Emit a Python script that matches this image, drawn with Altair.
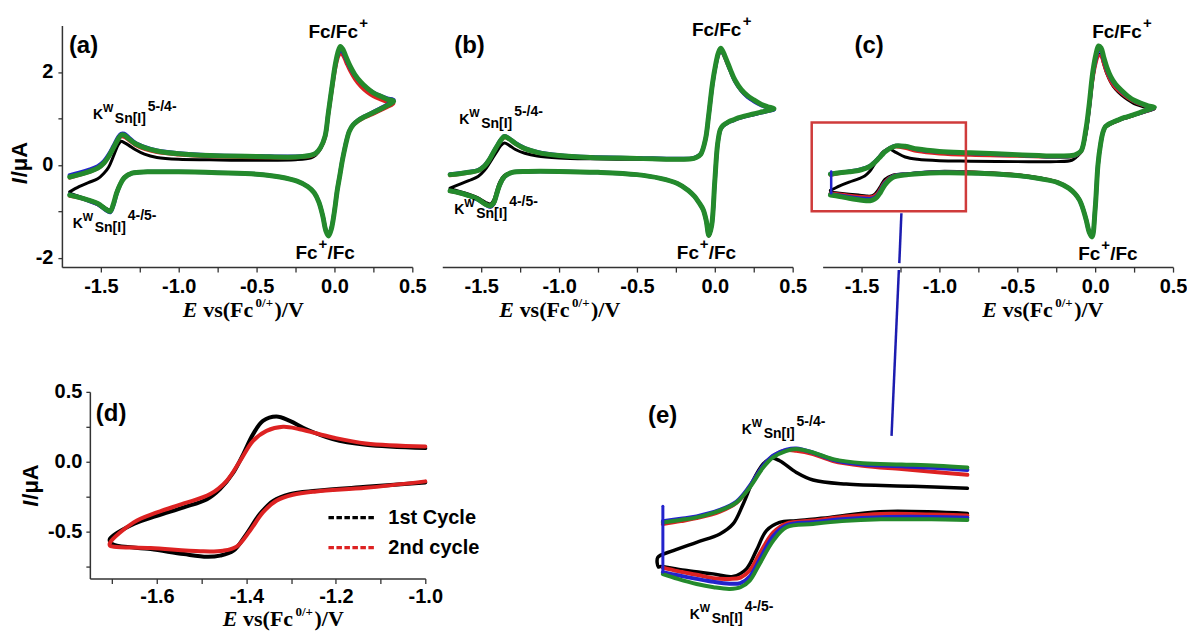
import altair as alt
import pandas as pd

# ------------------------------------------------------------------ data
# shared potential grids (V vs Fc) for the three full-range CVs (a)-(c)
E_UP = [-1.70, -1.64, -1.58, -1.52, -1.48, -1.45, -1.42, -1.39, -1.37, -1.35, -1.32, -1.28,
        -1.22, -1.14, -1.00, -0.80, -0.50, -0.25, -0.15, -0.12, -0.09, -0.06, -0.04, -0.015,
        0.005, 0.022, 0.038, 0.055, 0.075, 0.10, 0.13, 0.17, 0.21, 0.25, 0.30, 0.34, 0.38]
E_DN = [0.38, 0.34, 0.29, 0.24, 0.19, 0.15, 0.12, 0.095, 0.08, 0.065, 0.05, 0.035, 0.018, 0.0,
        -0.02, -0.038, -0.055, -0.075, -0.10, -0.13, -0.17, -0.24, -0.35, -0.50, -0.75, -1.00,
        -1.20, -1.30, -1.35, -1.38, -1.40, -1.42, -1.44, -1.47, -1.52, -1.58, -1.64, -1.70]

# panel (a) currents (uA)
A_BLACK_UP = [-0.58, -0.47, -0.38, -0.30, -0.18, -0.05, 0.18, 0.42, 0.51, 0.48, 0.42, 0.33, 0.23, 0.16, 0.12, 0.11, 0.10, 0.11, 0.15, 0.21, 0.34, 0.60, 1.07, 1.67, 2.12, 2.40, 2.52, 2.45, 2.30, 2.10, 1.92, 1.75, 1.62, 1.52, 1.44, 1.38, 1.34]
A_RED_UP = [-0.28, -0.22, -0.16, -0.08, 0.03, 0.17, 0.35, 0.53, 0.61, 0.60, 0.53, 0.43, 0.34, 0.27, 0.22, 0.18, 0.16, 0.16, 0.19, 0.23, 0.35, 0.58, 1.05, 1.62, 2.05, 2.30, 2.40, 2.35, 2.20, 2.02, 1.85, 1.68, 1.56, 1.47, 1.40, 1.35, 1.32]
A_BLUE_UP = [-0.22, -0.17, -0.11, -0.03, 0.08, 0.22, 0.40, 0.59, 0.67, 0.67, 0.59, 0.48, 0.39, 0.31, 0.25, 0.21, 0.19, 0.18, 0.21, 0.25, 0.37, 0.62, 1.10, 1.70, 2.13, 2.38, 2.48, 2.42, 2.28, 2.10, 1.93, 1.77, 1.65, 1.56, 1.48, 1.43, 1.40]
A_GREEN_UP = [-0.26, -0.21, -0.15, -0.07, 0.04, 0.18, 0.36, 0.55, 0.64, 0.64, 0.56, 0.46, 0.37, 0.30, 0.24, 0.20, 0.18, 0.17, 0.21, 0.25, 0.37, 0.62, 1.10, 1.70, 2.15, 2.42, 2.55, 2.48, 2.32, 2.13, 1.95, 1.78, 1.65, 1.55, 1.47, 1.41, 1.37]
A_BLACK_DN = [1.34, 1.26, 1.17, 1.09, 1.02, 0.94, 0.85, 0.71, 0.54, 0.32, 0.07, -0.23, -0.56, -1.00, -1.37, -1.52, -1.41, -1.10, -0.80, -0.60, -0.47, -0.35, -0.26, -0.20, -0.17, -0.15, -0.15, -0.17, -0.26, -0.42, -0.58, -0.83, -0.97, -0.93, -0.82, -0.75, -0.68, -0.61]
A_RED_DN = [1.32, 1.24, 1.16, 1.08, 1.01, 0.93, 0.85, 0.71, 0.54, 0.32, 0.07, -0.23, -0.56, -1.00, -1.36, -1.50, -1.40, -1.09, -0.80, -0.60, -0.47, -0.35, -0.26, -0.20, -0.17, -0.15, -0.15, -0.18, -0.28, -0.45, -0.63, -0.86, -1.00, -0.96, -0.85, -0.77, -0.71, -0.67]
A_BLUE_DN = [1.40, 1.30, 1.21, 1.12, 1.04, 0.96, 0.87, 0.73, 0.56, 0.34, 0.09, -0.21, -0.54, -0.99, -1.37, -1.52, -1.41, -1.10, -0.80, -0.60, -0.47, -0.35, -0.26, -0.20, -0.17, -0.15, -0.15, -0.18, -0.28, -0.46, -0.64, -0.88, -1.02, -0.97, -0.85, -0.77, -0.70, -0.64]
A_GREEN_DN = [1.37, 1.28, 1.19, 1.11, 1.03, 0.95, 0.86, 0.72, 0.55, 0.33, 0.08, -0.22, -0.55, -1.00, -1.38, -1.53, -1.42, -1.10, -0.80, -0.60, -0.47, -0.35, -0.26, -0.20, -0.17, -0.15, -0.15, -0.18, -0.28, -0.45, -0.62, -0.85, -1.00, -0.95, -0.83, -0.76, -0.70, -0.65]

# panel (b)
B_BLACK_UP = [-0.50, -0.42, -0.34, -0.25, -0.12, 0.02, 0.18, 0.34, 0.43, 0.47, 0.42, 0.33, 0.25, 0.19, 0.15, 0.13, 0.12, 0.11, 0.12, 0.15, 0.22, 0.53, 1.03, 1.72, 2.12, 2.38, 2.49, 2.41, 2.25, 2.04, 1.81, 1.61, 1.48, 1.39, 1.29, 1.24, 1.20]
B_RED_UP = [-0.23, -0.20, -0.17, -0.13, -0.04, 0.09, 0.27, 0.44, 0.54, 0.59, 0.55, 0.45, 0.34, 0.26, 0.20, 0.16, 0.14, 0.12, 0.13, 0.16, 0.23, 0.54, 1.03, 1.72, 2.12, 2.36, 2.46, 2.38, 2.22, 2.02, 1.80, 1.60, 1.47, 1.38, 1.29, 1.24, 1.20]
B_BLUE_UP = [-0.20, -0.18, -0.15, -0.11, -0.02, 0.11, 0.29, 0.46, 0.56, 0.62, 0.57, 0.47, 0.36, 0.28, 0.21, 0.17, 0.15, 0.13, 0.14, 0.17, 0.24, 0.55, 1.04, 1.73, 2.13, 2.37, 2.47, 2.40, 2.24, 2.03, 1.80, 1.60, 1.46, 1.37, 1.28, 1.23, 1.19]
B_GREEN_UP = [-0.21, -0.19, -0.16, -0.12, -0.03, 0.10, 0.28, 0.45, 0.55, 0.61, 0.56, 0.46, 0.35, 0.27, 0.20, 0.16, 0.14, 0.12, 0.13, 0.16, 0.23, 0.55, 1.05, 1.75, 2.15, 2.40, 2.51, 2.42, 2.26, 2.05, 1.82, 1.62, 1.49, 1.40, 1.30, 1.25, 1.21]
B_BLACK_DN = [1.20, 1.16, 1.12, 1.08, 1.04, 1.00, 0.96, 0.93, 0.90, 0.87, 0.83, 0.75, 0.44, -0.36, -1.30, -1.52, -1.20, -0.96, -0.82, -0.68, -0.55, -0.40, -0.29, -0.21, -0.16, -0.14, -0.14, -0.16, -0.22, -0.36, -0.55, -0.76, -0.84, -0.81, -0.71, -0.63, -0.57, -0.52]
B_RED_DN = [1.20, 1.16, 1.12, 1.08, 1.04, 1.00, 0.96, 0.93, 0.90, 0.87, 0.83, 0.75, 0.44, -0.36, -1.31, -1.53, -1.21, -0.97, -0.82, -0.68, -0.55, -0.40, -0.29, -0.21, -0.16, -0.14, -0.14, -0.16, -0.26, -0.44, -0.64, -0.84, -0.90, -0.86, -0.75, -0.67, -0.61, -0.57]
B_BLUE_DN = [1.19, 1.16, 1.12, 1.08, 1.04, 1.00, 0.96, 0.93, 0.90, 0.87, 0.83, 0.75, 0.44, -0.36, -1.30, -1.52, -1.20, -0.96, -0.82, -0.68, -0.55, -0.40, -0.29, -0.21, -0.16, -0.14, -0.14, -0.16, -0.26, -0.43, -0.63, -0.84, -0.90, -0.86, -0.75, -0.66, -0.60, -0.56]
B_GREEN_DN = [1.21, 1.17, 1.13, 1.09, 1.05, 1.01, 0.97, 0.94, 0.91, 0.88, 0.84, 0.76, 0.45, -0.35, -1.30, -1.52, -1.20, -0.96, -0.82, -0.68, -0.55, -0.40, -0.29, -0.21, -0.16, -0.14, -0.14, -0.16, -0.25, -0.42, -0.62, -0.82, -0.88, -0.85, -0.74, -0.66, -0.60, -0.56]

# panel (c)
C_BLACK_UP = [-0.55, -0.45, -0.37, -0.30, -0.24, -0.15, 0.00, 0.16, 0.25, 0.31, 0.34, 0.27, 0.17, 0.12, 0.09, 0.08, 0.07, 0.07, 0.10, 0.17, 0.28, 0.65, 1.15, 1.85, 2.22, 2.38, 2.36, 2.17, 1.96, 1.78, 1.63, 1.50, 1.40, 1.32, 1.26, 1.22, 1.20]
C_RED_UP = [-0.22, -0.18, -0.15, -0.12, -0.08, -0.04, 0.04, 0.14, 0.22, 0.29, 0.36, 0.39, 0.36, 0.29, 0.24, 0.21, 0.19, 0.17, 0.18, 0.21, 0.28, 0.68, 1.15, 1.85, 2.20, 2.35, 2.34, 2.18, 1.98, 1.80, 1.66, 1.54, 1.44, 1.36, 1.29, 1.25, 1.22]
C_BLUE_UP = [-0.19, -0.17, -0.14, -0.11, -0.07, -0.03, 0.05, 0.15, 0.22, 0.29, 0.36, 0.41, 0.40, 0.33, 0.28, 0.25, 0.21, 0.18, 0.19, 0.22, 0.30, 0.72, 1.20, 1.95, 2.30, 2.47, 2.45, 2.27, 2.06, 1.87, 1.72, 1.58, 1.47, 1.38, 1.31, 1.26, 1.23]
C_GREEN_UP = [-0.20, -0.17, -0.15, -0.12, -0.08, -0.04, 0.04, 0.14, 0.21, 0.28, 0.35, 0.41, 0.40, 0.34, 0.29, 0.26, 0.22, 0.19, 0.20, 0.23, 0.30, 0.75, 1.25, 2.00, 2.38, 2.56, 2.52, 2.32, 2.10, 1.90, 1.74, 1.60, 1.48, 1.39, 1.32, 1.27, 1.24]
C_BLACK_DN = [1.20, 1.16, 1.11, 1.05, 1.00, 0.95, 0.91, 0.87, 0.84, 0.80, 0.68, 0.43, -0.02, -0.95, -1.52, -1.43, -1.20, -0.96, -0.75, -0.61, -0.49, -0.37, -0.28, -0.21, -0.16, -0.14, -0.19, -0.22, -0.31, -0.47, -0.57, -0.64, -0.67, -0.67, -0.65, -0.63, -0.61, -0.59]
C_RED_DN = [1.22, 1.17, 1.12, 1.06, 1.01, 0.96, 0.92, 0.88, 0.85, 0.81, 0.69, 0.44, -0.01, -0.95, -1.53, -1.44, -1.21, -0.97, -0.75, -0.61, -0.49, -0.37, -0.29, -0.22, -0.17, -0.15, -0.20, -0.24, -0.36, -0.52, -0.62, -0.67, -0.69, -0.69, -0.68, -0.66, -0.63, -0.61]
C_BLUE_DN = [1.23, 1.18, 1.12, 1.07, 1.02, 0.97, 0.93, 0.89, 0.86, 0.82, 0.70, 0.45, 0.00, -0.95, -1.54, -1.45, -1.22, -0.98, -0.76, -0.62, -0.50, -0.38, -0.30, -0.23, -0.18, -0.16, -0.20, -0.25, -0.39, -0.56, -0.66, -0.71, -0.73, -0.73, -0.72, -0.69, -0.66, -0.63]
C_GREEN_DN = [1.24, 1.19, 1.13, 1.07, 1.02, 0.97, 0.93, 0.89, 0.86, 0.82, 0.70, 0.45, 0.00, -0.95, -1.55, -1.45, -1.22, -0.98, -0.76, -0.62, -0.50, -0.38, -0.30, -0.23, -0.18, -0.17, -0.21, -0.27, -0.43, -0.60, -0.69, -0.74, -0.77, -0.77, -0.75, -0.72, -0.68, -0.65]
C_BLUE_STEP_E = [-1.695, -1.695]
C_BLUE_STEP_I = [-0.61, -0.14]

# zoom box in (c) (units of (c)); connector from the box down to (e) (units of (e))
BOX_E = [-1.82, -0.83]
BOX_I = [-1.00, 0.91]
LINK_E = [-0.901, -0.908, -0.9095, -0.934]
LINK_I = [2.38, 1.961, 1.903, 0.511]

# panel (d): 1st / 2nd cycle
D_BLACK_UP_E = [-1.705, -1.652, -1.60, -1.54, -1.488, -1.459, -1.429, -1.407, -1.385, -1.363, -1.333, -1.303, -1.266, -1.207, -1.133, -1.0]
D_BLACK_UP_I = [-0.55, -0.445, -0.386, -0.326, -0.267, -0.195, -0.076, 0.055, 0.198, 0.293, 0.324, 0.293, 0.233, 0.162, 0.121, 0.098]
D_BLACK_DN_E = [-1.0, -1.133, -1.244, -1.303, -1.34, -1.37, -1.40, -1.429, -1.459, -1.488, -1.54, -1.614, -1.696, -1.705]
D_BLACK_DN_I = [-0.148, -0.179, -0.207, -0.231, -0.279, -0.374, -0.517, -0.636, -0.671, -0.679, -0.66, -0.624, -0.593, -0.57]
D_RED_UP_E = [-1.705, -1.652, -1.60, -1.54, -1.481, -1.444, -1.414, -1.385, -1.355, -1.318, -1.281, -1.207, -1.133, -1.0]
D_RED_UP_I = [-0.58, -0.433, -0.362, -0.298, -0.231, -0.136, 0.007, 0.15, 0.221, 0.25, 0.233, 0.174, 0.131, 0.109]
D_RED_DN_E = [-1.0, -1.133, -1.244, -1.296, -1.333, -1.363, -1.392, -1.422, -1.452, -1.503, -1.614, -1.696, -1.705]
D_RED_DN_I = [-0.14, -0.186, -0.212, -0.236, -0.279, -0.362, -0.493, -0.607, -0.636, -0.64, -0.617, -0.607, -0.60]
LEGEND_LABELS = ["1st Cycle", "2nd cycle"]

# panel (e): enlarged low-potential region
E_E_UP = [-1.70, -1.64, -1.587, -1.509, -1.453, -1.409, -1.364, -1.331, -1.286, -1.253, -1.197, -1.13, -1.03, -0.90, -0.78, -0.68]
E_RED_UP = [-0.23, -0.205, -0.18, -0.125, -0.05, 0.085, 0.255, 0.34, 0.39, 0.385, 0.357, 0.30, 0.26, 0.232, 0.205, 0.184]
E_BLUE_UP = [-0.205, -0.185, -0.165, -0.11, -0.04, 0.09, 0.26, 0.345, 0.395, 0.405, 0.37, 0.31, 0.27, 0.255, 0.24, 0.225]
E_GREEN_UP = [-0.216, -0.195, -0.174, -0.117, -0.048, 0.078, 0.245, 0.33, 0.385, 0.40, 0.371, 0.315, 0.28, 0.27, 0.26, 0.245]
E_E_DN = [-0.68, -0.80, -0.97, -1.10, -1.197, -1.286, -1.33, -1.376, -1.409, -1.44, -1.476, -1.53, -1.587, -1.65, -1.70]
E_RED_DN = [-0.157, -0.15, -0.145, -0.17, -0.20, -0.225, -0.30, -0.48, -0.62, -0.68, -0.69, -0.685, -0.655, -0.625, -0.595]
E_BLUE_DN = [-0.176, -0.17, -0.172, -0.19, -0.215, -0.24, -0.33, -0.53, -0.67, -0.725, -0.73, -0.715, -0.69, -0.66, -0.634]
E_GREEN_DN = [-0.195, -0.19, -0.19, -0.205, -0.229, -0.257, -0.369, -0.564, -0.704, -0.76, -0.774, -0.76, -0.733, -0.69, -0.65]
E_BLACK_UP_E = [-1.717, -1.665, -1.587, -1.509, -1.465, -1.431, -1.398, -1.364, -1.336, -1.309, -1.253, -1.197, -1.086, -0.863, -0.68]
E_BLACK_UP_I = [-0.51, -0.453, -0.383, -0.313, -0.229, -0.061, 0.134, 0.274, 0.324, 0.302, 0.204, 0.14, 0.106, 0.087, 0.07]
E_BLACK_DN_E = [-0.68, -0.974, -1.141, -1.253, -1.309, -1.353, -1.387, -1.42, -1.465, -1.532, -1.62, -1.71, -1.715]
E_BLACK_DN_I = [-0.14, -0.126, -0.174, -0.201, -0.216, -0.285, -0.453, -0.606, -0.67, -0.648, -0.62, -0.587, -0.59]
E_BLUE_STEP_E = [-1.70, -1.70]
E_BLUE_STEP_I = [-0.634, -0.081]

# annotation anchors (data units)
A_K_E = [-1.551, -1.68]
A_K_I = [0.98, -1.36]
B_K_E = [-1.641, -1.673]
B_K_I = [0.87, -1.06]
E_K_E = [-1.436, -1.61]
E_K_I = [0.528, -1.023]
K_SUPS = ["5-/4-", "4-/5-"]
FC_UP_E = [-0.167, -0.147, -0.019]
FC_UP_I = [2.73, 2.78, 2.74]
FC_DN_E = [-0.25, -0.244, -0.109]
FC_DN_I = [-2.03, -2.03, -2.05]

# ------------------------------------------------------------------ styling
FONT = "Liberation Sans"
SERIF = "Liberation Serif"
BLACK, RED, BLUE, GREEN = "#000000", "#dd2222", "#2323cc", "#248a2c"
BOX_RED, LINK_BLUE = "#cf3b3b", "#1c1cb0"
AX = "#333333"

TOP_W, TOP_H = 351, 242
XS_TOP = alt.Scale(domain=[-1.75, 0.5], nice=False, zero=False)
YS_TOP = alt.Scale(domain=[-2.2, 3.0], nice=False, zero=False)
XS_D = alt.Scale(domain=[-1.75, -1.0], nice=False, zero=False)
YS_D = alt.Scale(domain=[-0.835, 0.5], nice=False, zero=False)
XS_E = alt.Scale(domain=[-1.72, -0.68], nice=False, zero=False)
YS_E = alt.Scale(domain=[-0.88, 0.88], nice=False, zero=False)

LBL_HALF = ("abs(datum.value*2 - round(datum.value*2)) < 0.001 ? "
            "((datum.value < 0 ? '-' : '') + format(abs(datum.value), '.1f')) : ''")
LBL_EVEN_INT = ("abs(round(datum.value)) % 2 == 0 ? "
                "((datum.value < 0 ? '-' : '') + format(abs(datum.value), 'd')) : ''")
LBL_EVEN_TENTH = ("abs(round(datum.value*10)) % 2 == 0 ? "
                  "((datum.value < 0 ? '-' : '') + format(abs(datum.value), '.1f')) : ''")
LBL_HALF_Q = ("abs(round(datum.value*4)) % 2 == 0 ? "
              "((datum.value < 0 ? '-' : '') + format(abs(datum.value), '.1f')) : ''")


def axis(values, expr, tick=5, pad=6):
    return alt.Axis(values=values, labelExpr=expr, title=None, grid=False, tickSize=tick,
                    tickWidth=1.3, tickColor=AX, domainColor=AX, domainWidth=1.5,
                    labelFont=FONT, labelFontSize=20, labelFontWeight="bold", labelColor="black",
                    labelPadding=pad, labelOverlap=False, labelFlush=False)


X_AXIS_TOP = axis([-1.5, -1.25, -1.0, -0.75, -0.5, -0.25, 0.0, 0.25, 0.5], LBL_HALF, 5, 4)
Y_AXIS_A = axis([-2, -1, 0, 1, 2], LBL_EVEN_INT, 4, 5)
X_AXIS_D = axis([-1.7, -1.6, -1.5, -1.4, -1.3, -1.2, -1.1, -1.0], LBL_EVEN_TENTH, 5, 3)
Y_AXIS_D = axis([-0.75, -0.5, -0.25, 0.0, 0.25, 0.5], LBL_HALF_Q, 4, 4)


class Frame:
    """scales + axes of one panel, applied identically to every data layer"""
    def __init__(self, xs, ys, xa, ya):
        self.xs, self.ys, self.xa, self.ya = xs, ys, xa, ya

    def x(self, field):
        return alt.X(field, scale=self.xs, axis=self.xa)

    def y(self, field):
        return alt.Y(field, scale=self.ys, axis=self.ya)


def frame(*segments):
    rows = []
    for s, (es, vs) in enumerate(segments):
        for k, (e, v) in enumerate(zip(es, vs)):
            rows.append({"E": e, "I": v, "seg": s, "k": k})
    return pd.DataFrame(rows)


def loop(i_up, i_dn):
    return (list(E_UP) + list(E_DN[1:]), list(i_up) + list(i_dn[1:]))


def open_left(e_up, i_up, e_dn, i_dn):
    return (list(reversed(e_up)) + list(reversed(e_dn)), list(reversed(i_up)) + list(reversed(i_dn)))


def line_layer(df, color, width, F):
    return alt.Chart(df).mark_line(
        color=color, strokeWidth=width, interpolate="catmull-rom",
        strokeCap="round", strokeJoin="round", clip=False
    ).encode(x=F.x("E:Q"), y=F.y("I:Q"), detail="seg:N", order="k:Q")


TXT = dict(font=FONT, fontWeight="bold", align="left", baseline="alphabetic", color="black", clip=False)


def k_labels(es, vs, F):
    df = pd.DataFrame({"E": es, "I": vs, "sup": K_SUPS})
    base = alt.Chart(df).encode(x=F.x("E:Q"), y=F.y("I:Q"))
    return [
        base.mark_text(text="K", fontSize=14, **TXT),
        base.mark_text(text="W", fontSize=11, dx=10, dy=-7, **TXT),
        base.mark_text(text="Sn[I]", fontSize=14, dx=22, dy=4, **TXT),
        base.mark_text(fontSize=14, dx=55, dy=-8, **TXT).encode(text="sup:N"),
    ]


def fc_labels(idx, F):
    up = alt.Chart(pd.DataFrame({"E": [FC_UP_E[idx]], "I": [FC_UP_I[idx]]})).encode(x=F.x("E:Q"), y=F.y("I:Q"))
    dn = alt.Chart(pd.DataFrame({"E": [FC_DN_E[idx]], "I": [FC_DN_I[idx]]})).encode(x=F.x("E:Q"), y=F.y("I:Q"))
    return [
        up.mark_text(text="Fc/Fc", fontSize=19, **TXT),
        up.mark_text(text="+", fontSize=15, dx=51, dy=-10, **TXT),
        dn.mark_text(text="Fc", fontSize=19, **TXT),
        dn.mark_text(text="+", fontSize=15, dx=23, dy=-10, **TXT),
        dn.mark_text(text="/Fc", fontSize=19, dx=32, **TXT),
    ]


ONE = pd.DataFrame({"z": [0]})


def pix_text(text, x, y, size, font=FONT, style="normal", angle=0, baseline="alphabetic"):
    kw = dict(TXT)
    kw.update(font=font, fontStyle=style, baseline=baseline)
    if angle:
        kw["angle"] = angle
    return alt.Chart(ONE).mark_text(text=text, fontSize=size, **kw).encode(x=alt.value(x), y=alt.value(y))


def pin(x, y):
    # invisible anchor that fixes the extent of a panel for the layout
    return alt.Chart(ONE).mark_point(opacity=0, size=1).encode(x=alt.value(x), y=alt.value(y))


def x_title(x0, y0):
    return [
        pix_text("E", x0, y0, 22, SERIF, "italic"),
        pix_text("vs(Fc", x0 + 20.5, y0, 22, SERIF),
        pix_text("0/+", x0 + 73, y0 - 10, 13, SERIF),
        pix_text(")/V", x0 + 92, y0, 22, SERIF),
    ]


def y_title(xb, y0):
    return [
        pix_text("I", xb, y0, 22, FONT, "italic", angle=270),
        pix_text("/\u03bcA", xb, y0 - 7, 22, FONT, angle=270),
    ]


def top_curves(series, F):
    return [line_layer(df, color, width, F) for df, color, width in series]


# ---- panel (a)
FA = Frame(XS_TOP, YS_TOP, X_AXIS_TOP, Y_AXIS_A)
a_series = [
    (frame(loop(A_BLACK_UP, A_BLACK_DN)), BLACK, 3.0),
    (frame(loop(A_RED_UP, A_RED_DN)), RED, 3.5),
    (frame(loop(A_BLUE_UP, A_BLUE_DN)), BLUE, 4.0),
    (frame(loop(A_GREEN_UP, A_GREEN_DN)), GREEN, 5.0),
]
panel_a = alt.layer(
    *top_curves(a_series, FA),
    *k_labels(A_K_E, A_K_I, FA),
    *fc_labels(0, FA),
    pix_text("(a)", 7, 28, 24),
    *x_title(121, 292),
    *y_title(-35, 159),
    pin(-53, -16),
).properties(width=TOP_W, height=TOP_H)

# ---- panel (b)
FB = Frame(XS_TOP, YS_TOP, X_AXIS_TOP, None)
b_series = [
    (frame(loop(B_BLACK_UP, B_BLACK_DN)), BLACK, 3.0),
    (frame(loop(B_RED_UP, B_RED_DN)), RED, 3.5),
    (frame(loop(B_BLUE_UP, B_BLUE_DN)), BLUE, 4.0),
    (frame(loop(B_GREEN_UP, B_GREEN_DN)), GREEN, 5.0),
]
panel_b = alt.layer(
    *top_curves(b_series, FB),
    *k_labels(B_K_E, B_K_I, FB),
    *fc_labels(1, FB),
    pix_text("(b)", 12, 28, 24),
    *x_title(57, 292),
).properties(width=TOP_W, height=TOP_H)

# ---- panel (c)
FC = Frame(XS_TOP, YS_TOP, X_AXIS_TOP, None)
c_series = [
    (frame(loop(C_BLACK_UP, C_BLACK_DN)), BLACK, 3.0),
    (frame(loop(C_RED_UP, C_RED_DN)), RED, 3.5),
    (frame(loop(C_BLUE_UP, C_BLUE_DN)), BLUE, 4.0),
    (frame(loop(C_GREEN_UP, C_GREEN_DN)), GREEN, 5.0),
]
c_step = line_layer(frame((C_BLUE_STEP_E, C_BLUE_STEP_I)), BLUE, 2.5, FC)
box = alt.Chart(pd.DataFrame({"x1": [BOX_E[0]], "x2": [BOX_E[1]], "y1": [BOX_I[0]], "y2": [BOX_I[1]]})).mark_rect(
    filled=False, color=BOX_RED, strokeWidth=2.5, clip=False
).encode(x=FC.x("x1:Q"), x2="x2:Q", y=FC.y("y1:Q"), y2="y2:Q")
panel_c = alt.layer(
    *top_curves(c_series, FC),
    c_step, box,
    *fc_labels(2, FC),
    pix_text("(c)", 32, 28, 24),
    *x_title(160, 292),
    pin(100, 300),
).properties(width=TOP_W, height=TOP_H)

# ---- panel (d)
D_W, D_H = 336, 187
FD = Frame(XS_D, YS_D, X_AXIS_D, Y_AXIS_D)
d_black = line_layer(frame(open_left(D_BLACK_UP_E, D_BLACK_UP_I, D_BLACK_DN_E, D_BLACK_DN_I)), BLACK, 4.0, FD)
d_red = line_layer(frame(open_left(D_RED_UP_E, D_RED_UP_I, D_RED_DN_E, D_RED_DN_I)), RED, 4.0, FD)


def legend_row(label, color, y):
    rule = alt.Chart(ONE).mark_rule(color=color, strokeWidth=3.3, strokeDash=[5.5, 2.5]).encode(
        x=alt.value(239), x2=alt.value(286), y=alt.value(y))
    return [rule, pix_text(label, 299, y, 20, baseline="middle")]


panel_d = alt.layer(
    d_black, d_red,
    *legend_row(LEGEND_LABELS[0], BLACK, 126),
    *legend_row(LEGEND_LABELS[1], RED, 156),
    pix_text("(d)", 6, 29, 24),
    *x_title(133, 235),
    *y_title(-52, 115),
    pin(0, -190),
).properties(width=D_W, height=D_H)

# ---- panel (e)
E_W, E_H = 311, 210
FE = Frame(XS_E, YS_E, None, None)
e_layers = [
    line_layer(frame(open_left(E_BLACK_UP_E, E_BLACK_UP_I, E_BLACK_DN_E, E_BLACK_DN_I)), BLACK, 3.5, FE),
    line_layer(frame((E_E_UP, E_RED_UP), (E_E_DN, E_RED_DN)), RED, 4.0, FE),
    line_layer(frame((E_E_UP, E_BLUE_UP), (E_E_DN, E_BLUE_DN)), BLUE, 4.0, FE),
    line_layer(frame((E_E_UP, E_GREEN_UP), (E_E_DN, E_GREEN_DN)), GREEN, 4.0, FE),
    line_layer(frame((E_BLUE_STEP_E, E_BLUE_STEP_I)), BLUE, 3.0, FE),
]
link = alt.Chart(pd.DataFrame({"x1": LINK_E[0::2], "x2": LINK_E[1::2], "y1": LINK_I[0::2], "y2": LINK_I[1::2]})).mark_rule(
    color=LINK_BLUE, strokeWidth=2.5, clip=False
).encode(x=FE.x("x1:Q"), x2="x2:Q", y=FE.y("y1:Q"), y2="y2:Q")
panel_e = alt.layer(
    *e_layers,
    link,
    *k_labels(E_K_E, E_K_I, FE),
    pix_text("(e)", -9, 31, 24),
).properties(width=E_W, height=E_H)


def spacer(w, h):
    return alt.Chart(ONE).mark_point(opacity=0, size=1).encode(
        x=alt.value(0), y=alt.value(0)).properties(width=w, height=h)


top = alt.hconcat(panel_a, panel_b, panel_c, spacing=30, bounds="flush").resolve_scale(
    x="independent", y="independent")
bottom = alt.hconcat(spacer(28, D_H), panel_d, spacer(232, D_H), panel_e, spacing=0, bounds="flush").resolve_scale(
    x="independent", y="independent")
chart = alt.vconcat(top, bottom, spacing=-125).resolve_scale(
    x="independent", y="independent"
).properties(padding=0).configure_view(stroke=None)

chart.save("out.html", embed_options={"renderer": "svg", "actions": False})
